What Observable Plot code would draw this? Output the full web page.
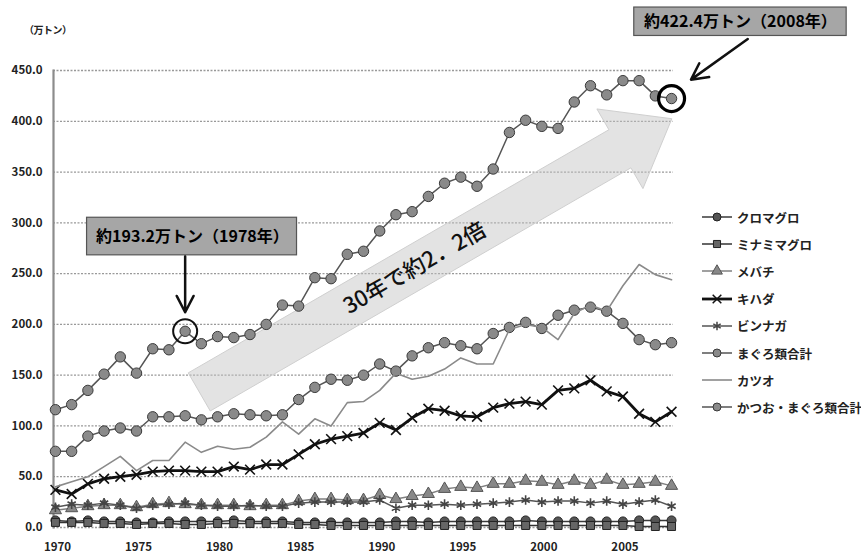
<!DOCTYPE html>
<html>
<head>
<meta charset="utf-8">
<script src="https://cdn.jsdelivr.net/npm/d3@7"></script>
<script src="https://cdn.jsdelivr.net/npm/@observablehq/plot@0.6"></script>
<style>
  body { margin: 0; background: #fff; }
  #chart { position: relative; width: 861px; height: 557px; font-family: "Noto Sans CJK JP", sans-serif; }
  #unit { position: absolute; left: 24px; top: 22px; font-size: 10px; font-weight: 700; color: #222; letter-spacing: -0.5px; }
  #legend { position: absolute; left: 700px; top: 0; }
  .entry { position: absolute; left: 0; display: flex; align-items: center; height: 18px; white-space: nowrap;
           font-size: 12.5px; font-weight: 700; color: #222; }
  .entry svg { margin-right: 3px; }
</style>
</head>
<body>
<div id="chart"><div id="unit">（万トン）</div></div>
<script>
// Catch by species, 1970–2008 (万トン)
const years = [1970,1971,1972,1973,1974,1975,1976,1977,1978,1979,1980,1981,1982,1983,1984,1985,1986,1987,1988,1989,
               1990,1991,1992,1993,1994,1995,1996,1997,1998,1999,2000,2001,2002,2003,2004,2005,2006,2007,2008];
const kuromaguro   = [7,6,7,6,6,5,5,6,6,6,6,7,6,6,6,5,5,5,5,5,5,6,6,5,6,6,6,6,6,7,6,6,6,6,6,6,7,7,7];
const minamimaguro = [5,5,5,4,4,3,4,4,3,3,4,4,4,4,4,3,3,2,2,2,2,2,2,2,2,2,2,2,2,2,2,2,2,2,2,2,1,1,1];
const mebachi      = [17,19,21,22,22,20,23,24,23,22,22,22,21,22,22,26,28,28,27,27,32,28,31,33,38,40,39,43,43,46,45,42,46,42,47,42,43,45,41];
const kihada       = [37,33,43,48,50,52,55,56,56,55,55,60,57,62,62,72,82,87,90,93,103,96,108,117,115,110,109,118,122,124,121,135,137,145,134,129,112,104,114];
const binnaga      = [20,23,22,24,22,19,22,23,24,22,21,21,22,21,21,24,25,25,25,25,27,19,22,22,23,22,23,24,25,27,25,26,26,24,26,23,25,27,21];
const maguroTotal  = [75,75,90,95,98,95,109,109,110,106,109,112,111,110,111,126,138,146,145,150,161,154,169,177,182,179,176,191,197,202,196,209,214,217,213,201,185,180,182];
const katsuo       = [40,45,50,60,70,56,66,66,84,74,80,77,79,89,104,92,107,100,123,124,135,152,146,149,156,167,161,161,195,200,197,185,211,219,213,238,259,249,244];
const grandTotal   = [116,121,135,151,168,152,176,175,193.2,181,188,187,190,200,219,218,246,245,269,272,292,308,311,326,339,345,336,353,389,401,395,393,419,435,426,440,440,425,422.4];

const seriesNames = ["クロマグロ","ミナミマグロ","メバチ","キハダ","ビンナガ","まぐろ類合計","カツオ","かつお・まぐろ類合計"];
const seriesValues = [kuromaguro, minamimaguro, mebachi, kihada, binnaga, maguroTotal, katsuo, grandTotal];

const yTicks = [0,50,100,150,200,250,300,350,400,450];
const xTicks = [1970,1975,1980,1985,1990,1995,2000,2005];

// Highlighted years on the grand total
const noteYears = [1978, 2008];
const trendLabel = "30年で約2．2倍";

// Drawing styles, one per series
const styles = [
  {line: "#3a3a3a", width: 1.5, symbol: "circle",   fill: "#555", stroke: "#222", r: 4.5},
  {line: "#333",    width: 1.5, symbol: "square",   fill: "#666", stroke: "#222", r: 4.5},
  {line: "#808080", width: 1.5, symbol: "triangle", fill: "#888", stroke: "#555", r: 4.5},
  {line: "#111",    width: 2.8, symbol: "times",    fill: "none", stroke: "#111", r: 4.5},
  {line: "#555",    width: 1.5, symbol: "asterisk", fill: "none", stroke: "#444", r: 4.5},
  {line: "#555",    width: 1.5, symbol: "circle",   fill: "#8a8a8a", stroke: "#3a3a3a", r: 5.2},
  {line: "#8a8a8a", width: 1.6, symbol: null},
  {line: "#555",    width: 1.5, symbol: "circle",   fill: "#8a8a8a", stroke: "#3a3a3a", r: 5.2}
];

const rows = seriesNames.map((name, k) => years.map((year, i) => ({name, year, value: seriesValues[k][i]})));

const notes = noteYears.map(year => {
  const value = grandTotal[years.indexOf(year)];
  return {year, value, label: `約${value.toFixed(1)}万トン（${year}年）`};
});

// Callout layout (data units)
const noteBoxes = [
  {x1: 1971.95, x2: 1984.9, y1: 268, y2: 305, tx: 1978.45, ty: 286.5},
  {x1: 2005.7,  x2: 2018.8, y1: 484, y2: 512, tx: 2012.25, ty: 498}
];
const notePointers = [
  {x1: 1978, y1: 267, x2: 1978, y2: 212},
  {x1: 2012.7, y1: 481, x2: 2009.2, y2: 441}
];
const trendTail = {year: 1978.9, value: 133};
const trendTip  = {year: 2008.05, value: 402};

// Broad translucent arrow with the growth caption
function trendArrow(index, scales) {
  const x0 = scales.x(trendTail.year), y0 = scales.y(trendTail.value);
  const x1 = scales.x(trendTip.year),  y1 = scales.y(trendTip.value);
  const L = Math.hypot(x1 - x0, y1 - y0);
  const ux = (x1 - x0) / L, uy = (y1 - y0) / L;
  const px = -uy, py = ux;
  const w = 22, hw = 46, hl = 60, hb = L - hl;
  const pt = (a, b) => [x0 + ux * a + px * b, y0 + uy * a + py * b];
  const poly = [pt(0, -w), pt(hb, -w), pt(hb, -hw), pt(L, 0), pt(hb, hw), pt(hb, w), pt(0, w)];
  const g = d3.create("svg:g");
  g.append("path")
    .attr("d", "M" + poly.map(p => p.join(",")).join("L") + "Z")
    .attr("fill", "#c0c0c0").attr("fill-opacity", 0.45)
    .attr("stroke", "#cfcfcf").attr("stroke-width", 1);
  const [cx, cy] = pt(L * 0.455, 0);
  const ang = Math.atan2(uy, ux) * 180 / Math.PI;
  g.append("text")
    .attr("transform", `translate(${cx},${cy}) rotate(${ang})`)
    .attr("text-anchor", "middle").attr("dy", "0.36em")
    .attr("font-size", 22).attr("font-weight", 500)
    .attr("fill", "#111")
    .text(trendLabel);
  return g.node();
}

const seriesMarks = rows.flatMap((data, k) => {
  const s = styles[k];
  const m = [Plot.line(data, {x: "year", y: "value", stroke: s.line, strokeWidth: s.width})];
  if (s.symbol) {
    m.push(Plot.dot(data, {x: "year", y: "value", symbol: s.symbol, r: s.r,
      fill: s.fill, stroke: s.stroke, strokeWidth: s.symbol === "times" || s.symbol === "asterisk" ? 1.6 : 1}));
  }
  return m;
});

const chart = Plot.plot({
  width: 861,
  height: 557,
  marginLeft: 53,
  marginRight: 188,
  marginTop: 70,
  marginBottom: 30,
  style: {fontFamily: "'Noto Sans CJK JP', sans-serif", fontSize: "12px", background: "#fff", color: "#222"},
  x: {domain: [1969.88, 2008.12]},
  y: {domain: [0, 450]},
  marks: [
    Plot.ruleY(yTicks, {stroke: "#999", strokeWidth: 1.3, strokeDasharray: "2,1.5"}),
    trendArrow,
    Plot.frame({anchor: "left", stroke: "#8c8c8c", strokeWidth: 2.2}),
    Plot.axisY(yTicks, {tickSize: 0, tickPadding: 11, tickFormat: d3.format(".1f"), fontSize: 11.5, fontWeight: 600, label: null}),
    Plot.axisX(xTicks, {tickSize: 0, tickPadding: 15, tickFormat: d => String(d), fontSize: 11.5, fontWeight: 600, dx: 2, label: null}),
    ...seriesMarks,
    Plot.dot([notes[0]], {x: "year", y: "value", r: 12, stroke: "#111", strokeWidth: 2, fill: "none"}),
    Plot.dot([notes[1]], {x: "year", y: "value", r: 13, stroke: "#000", strokeWidth: 3.2, fill: "none"}),
    Plot.arrow(notePointers, {x1: "x1", y1: "y1", x2: "x2", y2: "y2", stroke: "#111", strokeWidth: 2.5, headLength: 11, headAngle: 55}),
    Plot.rect(noteBoxes, {x1: "x1", x2: "x2", y1: "y1", y2: "y2", fill: "#a6a6a6", stroke: "#555", strokeWidth: 1.2}),
    Plot.text(notes, {x: (d, i) => noteBoxes[i].tx, y: (d, i) => noteBoxes[i].ty, text: "label",
      fontSize: 16, fontWeight: 700, fill: "#000"})
  ]
});
document.getElementById("chart").appendChild(chart);

// Legend on the right
const legend = d3.select("#chart").append("div").attr("id", "legend");
seriesNames.forEach((name, k) => {
  const s = styles[k];
  const entry = legend.append("div").attr("class", "entry").style("top", `${208 + k * 27.2}px`);
  const svg = entry.append("svg").attr("width", 34).attr("height", 14);
  svg.append("line").attr("x1", 2).attr("x2", 32).attr("y1", 7).attr("y2", 7)
    .attr("stroke", s.line).attr("stroke-width", s.width);
  if (s.symbol) {
    const sym = {circle: d3.symbolCircle, square: d3.symbolSquare, triangle: d3.symbolTriangle,
                 times: d3.symbolTimes, asterisk: d3.symbolAsterisk}[s.symbol];
    svg.append("path").attr("transform", "translate(17,7)")
      .attr("d", d3.symbol(sym, Math.PI * 4 * 4)())
      .attr("fill", s.fill).attr("stroke", s.stroke)
      .attr("stroke-width", s.fill === "none" ? 1.5 : 1);
  }
  entry.append("span").text(name);
});
</script>
</body>
</html>
